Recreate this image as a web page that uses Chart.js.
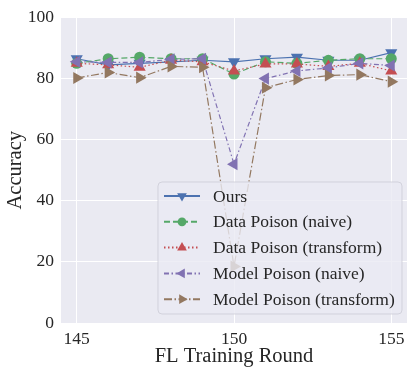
<!DOCTYPE html>
<html>
<head>
<meta charset="utf-8">
<script src="https://cdn.jsdelivr.net/npm/chart.js@4.4.1/dist/chart.umd.min.js"></script>
<style>
  body { margin: 0; background: #fff; }
</style>
</head>
<body>
<canvas id="chart" width="415" height="374"></canvas>
<script>
const rounds = [145, 146, 147, 148, 149, 150, 151, 152, 153, 154, 155];
const ours = [86.5, 84.5, 85, 85.5, 86, 85.5, 86.5, 87, 86, 86, 88.5];
const dataNaive = [85, 86.5, 87, 86.5, 86.5, 81.5, 85.5, 85, 86, 86.5, 86.5];
const dataTransform = [85, 84.5, 83.7, 86, 85.5, 82.5, 84.8, 84.8, 84, 85, 82.5];
const modelNaive = [85.5, 85.3, 85.3, 86.3, 86.5, 52, 80, 82.5, 83.5, 85, 84.3];
const modelTransform = [80.2, 82, 80.3, 84, 83.7, 18.5, 77, 79.7, 81, 81.3, 79];
const xTicks = [145, 150, 155];
const yTicks = [0, 20, 40, 60, 80, 100];

const FONT = '"Liberation Serif", "DejaVu Serif", serif';
const TEXT = '#262626';

function series(values) {
    return values.map((v, i) => ({ x: rounds[i], y: v }));
}

const styles = [
    { label: 'Ours', data: ours, color: '#4C72B0', dash: [], shape: 'triangle', rot: 180, r: 7 },
    { label: 'Data Poison (naive)', data: dataNaive, color: '#55A868', dash: [6, 3], shape: 'circle', rot: 0, r: 5.5 },
    { label: 'Data Poison (transform)', data: dataTransform, color: '#C44E52', dash: [1.5, 2.5], shape: 'triangle', rot: 0, r: 7 },
    { label: 'Model Poison (naive)', data: modelNaive, color: '#8172B2', dash: [5, 2.5, 1.5, 2.5], shape: 'triangle', rot: -90, r: 7 },
    { label: 'Model Poison (transform)', data: modelTransform, color: '#937860', dash: [8, 2.5, 1.5, 2.5], shape: 'triangle', rot: 90, r: 7 }
];

const datasets = styles.map((s, i) => ({
    label: s.label,
    data: series(s.data),
    borderColor: s.color,
    backgroundColor: s.color,
    borderWidth: 1.2,
    borderDash: s.dash,
    pointStyle: s.shape,
    pointRotation: s.rot,
    pointRadius: s.r,
    pointBorderWidth: 0,
    pointBackgroundColor: s.color,
    tension: 0,
    order: styles.length - i
}));

const areaBackground = {
    id: 'areaBackground',
    beforeDraw(chart) {
        const { ctx, chartArea: a } = chart;
        ctx.save();
        ctx.fillStyle = '#EAEAF2';
        ctx.fillRect(a.left, a.top, a.right - a.left, a.bottom - a.top);
        ctx.restore();
    }
};

const insideLegend = {
    id: 'insideLegend',
    afterDatasetsDraw(chart) {
        const ctx = chart.ctx;
        const a = chart.chartArea;
        const w = 244, h = 132;
        const x0 = a.right - 5 - w, y0 = a.bottom - 9 - h;
        ctx.save();
        ctx.beginPath();
        ctx.roundRect(x0, y0, w, h, 4);
        ctx.fillStyle = 'rgba(234,234,242,0.8)';
        ctx.fill();
        ctx.strokeStyle = 'rgba(204,204,214,0.8)';
        ctx.lineWidth = 1;
        ctx.stroke();
        ctx.font = '17.5px ' + FONT;
        ctx.textBaseline = 'middle';
        chart.data.datasets.forEach((ds, i) => {
            const y = y0 + 14 + i * 25.8;
            ctx.strokeStyle = ds.borderColor;
            ctx.lineWidth = 2;
            ctx.setLineDash(ds.borderDash);
            ctx.beginPath();
            ctx.moveTo(x0 + 6, y);
            ctx.lineTo(x0 + 42, y);
            ctx.stroke();
            ctx.setLineDash([]);
            ctx.fillStyle = ds.borderColor;
            Chart.helpers.drawPoint(ctx, {
                pointStyle: ds.pointStyle,
                rotation: ds.pointRotation,
                radius: ds.pointRadius * 0.8,
                borderWidth: 0
            }, x0 + 24, y);
            ctx.fillStyle = TEXT;
            ctx.fillText(ds.label, x0 + 55, y + 1);
        });
        ctx.restore();
    }
};

new Chart(document.getElementById('chart'), {
    type: 'line',
    data: { datasets: datasets },
    plugins: [areaBackground, insideLegend],
    options: {
        responsive: false,
        animation: false,
        layout: { padding: { left: 0, right: 8, top: 15, bottom: 0 } },
        plugins: {
            legend: { display: false },
            tooltip: { enabled: false }
        },
        scales: {
            x: {
                type: 'linear',
                min: 144.5,
                max: 155.5,
                afterBuildTicks: scale => { scale.ticks = xTicks.map(v => ({ value: v })); },
                afterFit: scale => { scale.height = 51; },
                border: { display: false },
                grid: { color: '#ffffff', lineWidth: 1, drawTicks: false },
                ticks: {
                    padding: 6,
                    color: TEXT,
                    font: { family: FONT, size: 17.5 },
                    maxRotation: 0
                },
                title: {
                    display: true,
                    text: 'FL Training Round',
                    color: TEXT,
                    font: { family: FONT, size: 20.5 },
                    padding: { top: 0, bottom: 5 }
                }
            },
            y: {
                min: 0,
                max: 100,
                afterBuildTicks: scale => { scale.ticks = yTicks.map(v => ({ value: v })); },
                afterFit: scale => { scale.width = 61; },
                border: { display: false },
                grid: { color: '#ffffff', lineWidth: 1, drawTicks: false },
                ticks: {
                    padding: 7,
                    color: TEXT,
                    font: { family: FONT, size: 17.5 }
                },
                title: {
                    display: true,
                    text: 'Accuracy',
                    color: TEXT,
                    font: { family: FONT, size: 20.5 },
                    padding: { top: 3, bottom: 0 }
                }
            }
        }
    }
});
</script>
</body>
</html>
